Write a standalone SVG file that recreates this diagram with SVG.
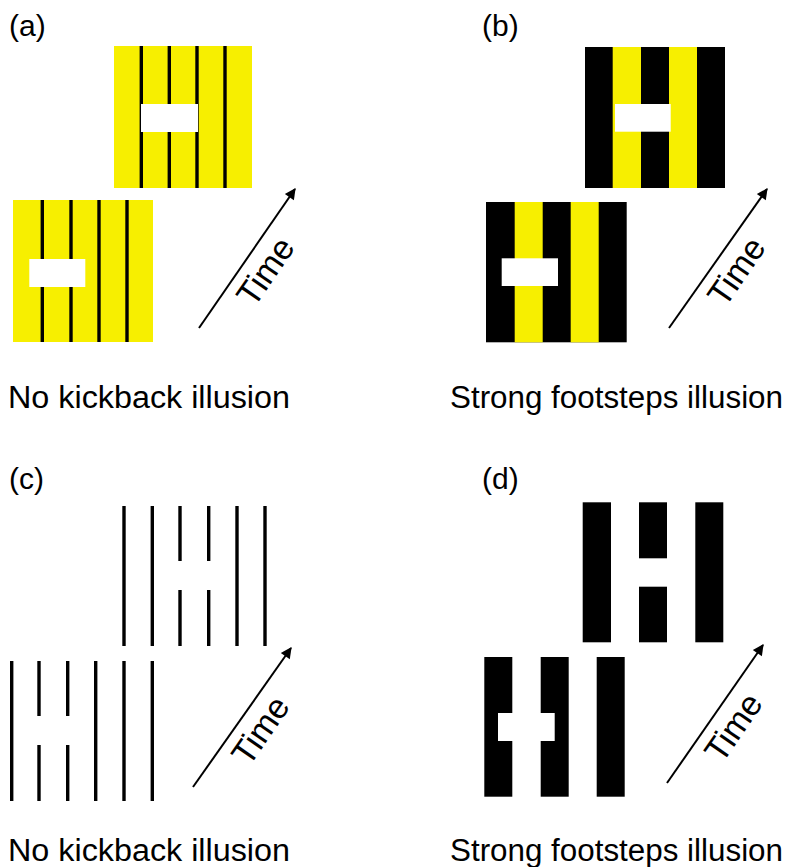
<svg xmlns="http://www.w3.org/2000/svg" width="785" height="867" viewBox="0 0 785 867">
<defs>
<marker id="ah" viewBox="0 0 10 10" refX="9" refY="5" markerWidth="15" markerHeight="11" markerUnits="userSpaceOnUse" orient="auto">
<path d="M0,0 L10,5 L0,10 Z" fill="#000"/>
</marker>
<style>
.yel{fill:#f7ef00}
.blk{fill:#000}
.wht{fill:#fff}
.ln{stroke:#000;stroke-width:3.4;fill:none}
.arr{stroke:#000;stroke-width:2;fill:none}
.lbl{font-family:"Liberation Sans",Arial,sans-serif;font-size:30px;fill:#000}
.cap{font-family:"Liberation Sans",Arial,sans-serif;font-size:31px;fill:#000}
.time{font-family:"Liberation Sans",Arial,sans-serif;font-size:34px;fill:#000;text-anchor:middle}
</style>
</defs>

<g id="panel-a">
<text class="lbl" x="9" y="36">(a)</text>
<g id="a-top">
<rect class="yel" x="114" y="46" width="138" height="142"/>
<line class="ln" x1="141.3" y1="46" x2="141.3" y2="188"/>
<line class="ln" x1="169.3" y1="46" x2="169.3" y2="188"/>
<line class="ln" x1="197" y1="46" x2="197" y2="188"/>
<line class="ln" x1="225" y1="46" x2="225" y2="188"/>
<rect class="wht" x="141" y="104" width="57" height="28"/>
</g>
<g id="a-bottom">
<rect class="yel" x="13" y="200" width="140" height="142"/>
<line class="ln" x1="42.3" y1="200" x2="42.3" y2="342"/>
<line class="ln" x1="71" y1="200" x2="71" y2="342"/>
<line class="ln" x1="99" y1="200" x2="99" y2="342"/>
<line class="ln" x1="127" y1="200" x2="127" y2="342"/>
<rect class="wht" x="29.3" y="259" width="56" height="28"/>
</g>
<text class="time" transform="translate(275,278) rotate(-55.4)">Time</text>
<text class="cap" x="8" y="408" textLength="282" lengthAdjust="spacingAndGlyphs">No kickback illusion</text>
</g>

<g id="panel-b">
<text class="lbl" x="482" y="36">(b)</text>
<g id="b-top">
<rect class="blk" x="585" y="47" width="140" height="141"/>
<rect class="yel" x="612.7" y="47" width="28.3" height="141"/>
<rect class="yel" x="669" y="47" width="28" height="141"/>
<rect class="wht" x="615" y="104" width="55.7" height="27.7"/>
</g>
<g id="b-bottom">
<rect class="blk" x="486" y="202" width="140.7" height="140.3"/>
<rect class="yel" x="514.7" y="202" width="28" height="140.3"/>
<rect class="yel" x="570.7" y="202" width="28" height="140.3"/>
<rect class="wht" x="501.7" y="258.3" width="56.3" height="27.7"/>
</g>
<text class="time" transform="translate(746,278) rotate(-55.4)">Time</text>
<text class="cap" x="450" y="408" textLength="333" lengthAdjust="spacingAndGlyphs">Strong footsteps illusion</text>
</g>

<g id="panel-c">
<text class="lbl" x="9" y="489">(c)</text>
<g id="c-top">
<line class="ln" x1="124" y1="506" x2="124" y2="646"/>
<line class="ln" x1="152.3" y1="506" x2="152.3" y2="646"/>
<line class="ln" x1="180" y1="506" x2="180" y2="561"/>
<line class="ln" x1="180" y1="590" x2="180" y2="646"/>
<line class="ln" x1="208.7" y1="506" x2="208.7" y2="561"/>
<line class="ln" x1="208.7" y1="590" x2="208.7" y2="646"/>
<line class="ln" x1="237" y1="506" x2="237" y2="646"/>
<line class="ln" x1="265" y1="506" x2="265" y2="646"/>
</g>
<g id="c-bottom">
<line class="ln" x1="11.7" y1="661" x2="11.7" y2="801"/>
<line class="ln" x1="39" y1="661" x2="39" y2="716"/>
<line class="ln" x1="39" y1="745" x2="39" y2="801"/>
<line class="ln" x1="67.7" y1="661" x2="67.7" y2="716"/>
<line class="ln" x1="67.7" y1="745" x2="67.7" y2="801"/>
<line class="ln" x1="95.7" y1="661" x2="95.7" y2="801"/>
<line class="ln" x1="124" y1="661" x2="124" y2="801"/>
<line class="ln" x1="152.3" y1="661" x2="152.3" y2="801"/>
</g>
<text class="time" transform="translate(270,737) rotate(-55.4)">Time</text>
<text class="cap" x="8" y="861" textLength="282" lengthAdjust="spacingAndGlyphs">No kickback illusion</text>
</g>

<g id="panel-d">
<text class="lbl" x="482" y="489">(d)</text>
<g id="d-top">
<rect class="blk" x="582.7" y="502.3" width="28.3" height="140"/>
<rect class="blk" x="639" y="502.3" width="28" height="56"/>
<rect class="blk" x="639" y="586.7" width="28" height="55.6"/>
<rect class="blk" x="695.3" y="502.3" width="28" height="140"/>
</g>
<g id="d-bottom">
<rect class="blk" x="484.3" y="657" width="28" height="139.7"/>
<rect class="blk" x="540.7" y="657" width="28" height="139.7"/>
<rect class="blk" x="596.7" y="657" width="28" height="139.7"/>
<rect class="wht" x="498" y="713" width="56.7" height="28"/>
</g>
<text class="time" transform="translate(743,734) rotate(-55.4)">Time</text>
<text class="cap" x="450" y="861" textLength="333" lengthAdjust="spacingAndGlyphs">Strong footsteps illusion</text>
</g>

<g id="connectors">
<line class="arr" x1="199" y1="328" x2="295" y2="189" marker-end="url(#ah)"/>
<line class="arr" x1="669" y1="328" x2="767" y2="189" marker-end="url(#ah)"/>
<line class="arr" x1="193" y1="787" x2="291" y2="648" marker-end="url(#ah)"/>
<line class="arr" x1="667" y1="783" x2="763" y2="645" marker-end="url(#ah)"/>
</g>
</svg>
